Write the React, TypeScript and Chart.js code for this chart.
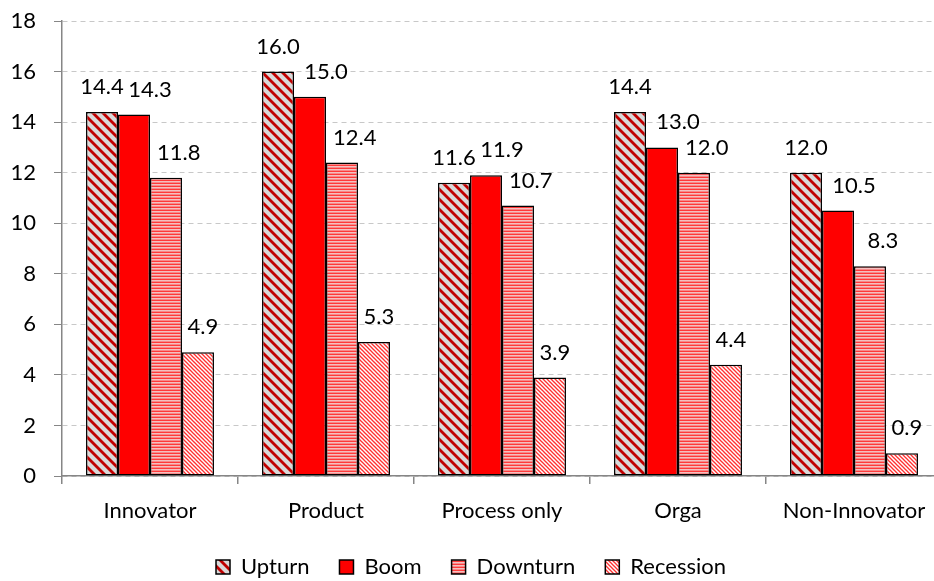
import React, { useEffect, useRef } from "react";
import { Chart, registerables } from "chart.js";

Chart.register(...registerables);

const categories = ["Innovator", "Product", "Process only", "Orga", "Non-Innovator"];
const seriesNames = ["Upturn", "Boom", "Downturn", "Recession"];
const upturn = [14.4, 16.0, 11.6, 14.4, 12.0];
const boom = [14.3, 15.0, 11.9, 13.0, 10.5];
const downturn = [11.8, 12.4, 10.7, 12.0, 8.3];
const recession = [4.9, 5.3, 3.9, 4.4, 0.9];
const yMin = 0;
const yMax = 18;
const yStep = 2;

const FONT = "Lato, 'Open Sans', sans-serif";
const FS = 22;
const W = 970;
const H = 588;

function makeTile(w: number, h: number, draw: (c: CanvasRenderingContext2D) => void) {
  const cv = document.createElement("canvas");
  cv.width = w;
  cv.height = h;
  const c = cv.getContext("2d")!;
  draw(c);
  return cv;
}

function diagTile(s: number, bg: string, fg: string, lw: number) {
  return makeTile(s, s, (c) => {
    c.fillStyle = bg;
    c.fillRect(0, 0, s, s);
    c.strokeStyle = fg;
    c.lineWidth = lw;
    for (const k of [-s, 0, s]) {
      c.beginPath();
      c.moveTo(k - 2, -2);
      c.lineTo(k + s + 2, s + 2);
      c.stroke();
    }
  });
}

export default function App() {
  const ref = useRef<HTMLCanvasElement | null>(null);

  useEffect(() => {
    document.documentElement.style.overflow = "hidden";
    document.body.style.overflow = "hidden";
    document.body.style.margin = "0";
    const canvas = ref.current!;
    const ctx = canvas.getContext("2d")!;

    const upTile = diagTile(10, "#d9d9d9", "#c00000", 2.8);
    const recTile = diagTile(4, "#ffffff", "#ff3030", 1.3);
    const downTile = makeTile(3, 3, (c) => {
      c.fillStyle = "#ff3a3a";
      c.fillRect(0, 0, 3, 1);
      c.fillStyle = "#f4c0c0";
      c.fillRect(0, 1, 3, 1);
      c.fillStyle = "#f78a8a";
      c.fillRect(0, 2, 3, 1);
    });

    const fills = [
      ctx.createPattern(upTile, "repeat")!,
      "#ff0000",
      ctx.createPattern(downTile, "repeat")!,
      ctx.createPattern(recTile, "repeat")!,
    ];
    const values = [upturn, boom, downturn, recession];
    const labelShift = [0, 0.5, 0.4, 0.15];

    const labelPlugin = {
      id: "valueLabels",
      afterDatasetsDraw(chart: any) {
        const c = chart.ctx;
        c.save();
        c.font = `${FS}px ${FONT}`;
        c.fillStyle = "#000";
        c.textAlign = "center";
        c.textBaseline = "middle";
        chart.data.datasets.forEach((ds: any, di: number) => {
          const meta = chart.getDatasetMeta(di);
          meta.data.forEach((el: any, i: number) => {
            const v = ds.data[i] as number;
            const w = el.width;
            c.fillText(v.toFixed(1), el.x + labelShift[di] * w, el.y - 25);
          });
        });
        c.restore();
      },
    };

    const chart = new Chart(ctx, {
      type: "bar",
      data: {
        labels: categories,
        datasets: seriesNames.map((name, i) => ({
          label: name,
          data: values[i],
          backgroundColor: fills[i] as any,
          borderColor: "#000000",
          borderWidth: 1.5,
          borderSkipped: false,
          categoryPercentage: 0.727,
          barPercentage: 1,
        })),
      },
      options: {
        responsive: false,
        animation: false,
        devicePixelRatio: 1,
        layout: { padding: { left: 0, top: 21, right: 28, bottom: 0 } },
        plugins: {
          legend: {
            position: "bottom",
            labels: {
              boxWidth: 14,
              boxHeight: 14,
              padding: 30,
              color: "#000",
              font: { family: FONT, size: FS },
            },
          },
          tooltip: { enabled: false },
        },
        scales: {
          x: {
            afterFit(scale: any) {
              scale.paddingLeft = 0;
              scale.paddingRight = 0;
              scale.height = 50;
            },
            grid: {
              display: true,
              drawOnChartArea: false,
              drawTicks: true,
              tickLength: 8,
              color: "#868686",
              lineWidth: 1.5,
              offset: true,
            },
            border: { color: "#868686", width: 1.5 },
            ticks: { color: "#000", padding: 14, font: { family: FONT, size: FS } },
          },
          y: {
            min: yMin,
            max: yMax,
            afterFit(scale: any) {
              scale.width = 62;
              scale.paddingTop = 0;
              scale.paddingBottom = 0;
            },
            ticks: { stepSize: yStep, color: "#000", padding: 18, font: { family: FONT, size: FS } },
            grid: {
              color: "#c8c8c8",
              lineWidth: 1,
              tickColor: "#868686",
              tickLength: 8,
            },
            border: { color: "#868686", width: 1.5, dash: [5, 4] },
          },
        },
      },
      plugins: [labelPlugin],
    });
    return () => chart.destroy();
  }, []);

  return (
    <div style={{ width: W, height: H }}>
      <canvas ref={ref} width={W} height={H} style={{ width: W, height: H, display: "block" }} />
    </div>
  );
}
